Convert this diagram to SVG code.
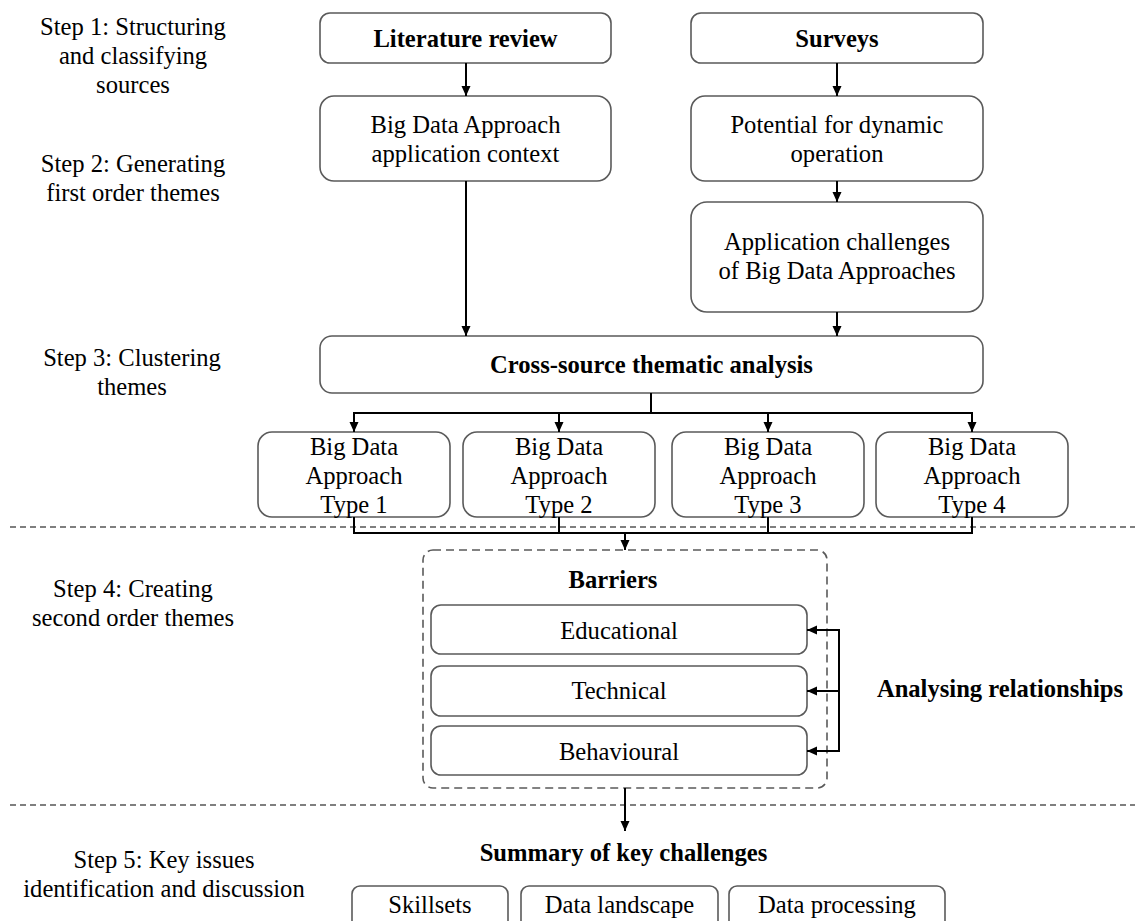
<svg xmlns="http://www.w3.org/2000/svg" width="1135" height="921" viewBox="0 0 1135 921">
  <defs>
    <marker id="arrow" markerUnits="userSpaceOnUse" markerWidth="11" markerHeight="10" refX="10" refY="4.5" orient="auto">
      <path d="M0,0 L10,4.5 L0,9 Z" fill="#000"/>
    </marker>
    <style>
      text { font-family: "Liberation Serif", "Times New Roman", serif; font-size: 24.6px; fill: #000; text-anchor: middle; }
      .b { font-weight: bold; }
      .box { fill: #fff; stroke: #5a5a5a; stroke-width: 1.6; }
      .conn { fill: none; stroke: #000; stroke-width: 2; }
      .sep { stroke: #555; stroke-width: 1.5; stroke-dasharray: 6 4; }
      .group { fill: none; stroke: #5a5a5a; stroke-width: 1.6; stroke-dasharray: 8 5; }
    </style>
  </defs>
  <rect width="1135" height="921" fill="#fff"/>

  <!-- step labels -->
  <g id="steps">
    <text x="133" y="35">Step 1: Structuring</text>
    <text x="133" y="64">and classifying</text>
    <text x="133" y="93">sources</text>
    <text x="133" y="172">Step 2: Generating</text>
    <text x="133" y="201">first order themes</text>
    <text x="132" y="366">Step 3: Clustering</text>
    <text x="132" y="395">themes</text>
    <text x="133" y="597">Step 4: Creating</text>
    <text x="133" y="626">second order themes</text>
    <text x="164" y="868">Step 5: Key issues</text>
    <text x="164" y="897">identification and discussion</text>
  </g>

  <!-- section separators -->
  <g id="separators">
    <line class="sep" x1="10" y1="527" x2="1135" y2="527"/>
    <line class="sep" x1="10" y1="805" x2="1135" y2="805"/>
  </g>

  <g id="literature-review">
    <rect class="box" x="320" y="13" width="291" height="50" rx="10"/>
    <text class="b" x="465.5" y="47">Literature review</text>
  </g>
  <g id="surveys">
    <rect class="box" x="691" y="13" width="292" height="50" rx="10"/>
    <text class="b" x="837" y="47">Surveys</text>
  </g>
  <g id="application-context">
    <rect class="box" x="320" y="96" width="291" height="85" rx="14"/>
    <text x="465.5" y="133">Big Data Approach</text>
    <text x="465.5" y="162">application context</text>
  </g>
  <g id="dynamic-operation">
    <rect class="box" x="691" y="96" width="292" height="85" rx="14"/>
    <text x="837" y="133">Potential for dynamic</text>
    <text x="837" y="162">operation</text>
  </g>
  <g id="application-challenges">
    <rect class="box" x="691" y="202" width="292" height="110" rx="16"/>
    <text x="837" y="250">Application challenges</text>
    <text x="837" y="279">of Big Data Approaches</text>
  </g>
  <g id="thematic-analysis">
    <rect class="box" x="320" y="336" width="663" height="57" rx="12"/>
    <text class="b" x="651.5" y="373">Cross-source thematic analysis</text>
  </g>

  <g id="type-1">
    <rect class="box" x="258" y="432" width="192" height="85" rx="14"/>
    <text x="354" y="455">Big Data</text>
    <text x="354" y="484">Approach</text>
    <text x="354" y="513">Type 1</text>
  </g>
  <g id="type-2">
    <rect class="box" x="463" y="432" width="192" height="85" rx="14"/>
    <text x="559" y="455">Big Data</text>
    <text x="559" y="484">Approach</text>
    <text x="559" y="513">Type 2</text>
  </g>
  <g id="type-3">
    <rect class="box" x="672" y="432" width="192" height="85" rx="14"/>
    <text x="768" y="455">Big Data</text>
    <text x="768" y="484">Approach</text>
    <text x="768" y="513">Type 3</text>
  </g>
  <g id="type-4">
    <rect class="box" x="876" y="432" width="192" height="85" rx="14"/>
    <text x="972" y="455">Big Data</text>
    <text x="972" y="484">Approach</text>
    <text x="972" y="513">Type 4</text>
  </g>

  <g id="barriers">
    <rect class="group" x="423" y="550" width="404" height="238" rx="10"/>
    <text class="b" x="613" y="588">Barriers</text>
  </g>
  <g id="educational">
    <rect class="box" x="431" y="605" width="376" height="49" rx="10"/>
    <text x="619" y="639">Educational</text>
  </g>
  <g id="technical">
    <rect class="box" x="431" y="666" width="376" height="50" rx="10"/>
    <text x="619" y="699">Technical</text>
  </g>
  <g id="behavioural">
    <rect class="box" x="431" y="726" width="376" height="49" rx="10"/>
    <text x="619" y="760">Behavioural</text>
  </g>
  <g id="analysing-relationships">
    <text class="b" x="1000" y="697">Analysing relationships</text>
  </g>

  <g id="summary">
    <text class="b" x="623.5" y="861">Summary of key challenges</text>
  </g>
  <g id="skillsets">
    <rect class="box" x="352" y="886" width="156" height="50" rx="8"/>
    <text x="430" y="913">Skillsets</text>
  </g>
  <g id="data-landscape">
    <rect class="box" x="521" y="886" width="197" height="50" rx="8"/>
    <text x="619.5" y="913">Data landscape</text>
  </g>
  <g id="data-processing">
    <rect class="box" x="729" y="886" width="216" height="50" rx="8"/>
    <text x="837" y="913">Data processing</text>
  </g>

  <!-- connectors -->
  <g id="connectors">
    <line class="conn" x1="466" y1="63" x2="466" y2="96" marker-end="url(#arrow)"/>
    <line class="conn" x1="837" y1="63" x2="837" y2="96" marker-end="url(#arrow)"/>
    <line class="conn" x1="837" y1="181" x2="837" y2="202" marker-end="url(#arrow)"/>
    <line class="conn" x1="466" y1="181" x2="466" y2="336" marker-end="url(#arrow)"/>
    <line class="conn" x1="837" y1="312" x2="837" y2="336" marker-end="url(#arrow)"/>

    <!-- fan-out to approach types -->
    <line class="conn" x1="651" y1="393" x2="651" y2="413"/>
    <line class="conn" x1="353" y1="413" x2="973" y2="413"/>
    <line class="conn" x1="354" y1="413" x2="354" y2="432" marker-end="url(#arrow)"/>
    <line class="conn" x1="559" y1="413" x2="559" y2="432" marker-end="url(#arrow)"/>
    <line class="conn" x1="768" y1="413" x2="768" y2="432" marker-end="url(#arrow)"/>
    <line class="conn" x1="972" y1="413" x2="972" y2="432" marker-end="url(#arrow)"/>

    <!-- merge into barriers -->
    <path class="conn" d="M354,517 V533 M559,517 V533 M768,517 V533 M972,517 V533 M353,533 H973"/>
    <line class="conn" x1="625" y1="533" x2="625" y2="550" marker-end="url(#arrow)"/>

    <!-- relationships bracket -->
    <line class="conn" x1="839" y1="629" x2="839" y2="752"/>
    <line class="conn" x1="839" y1="630" x2="807" y2="630" marker-end="url(#arrow)"/>
    <line class="conn" x1="839" y1="691" x2="807" y2="691" marker-end="url(#arrow)"/>
    <line class="conn" x1="839" y1="751" x2="807" y2="751" marker-end="url(#arrow)"/>

    <line class="conn" x1="625" y1="788" x2="625" y2="831" marker-end="url(#arrow)"/>
  </g>
</svg>
